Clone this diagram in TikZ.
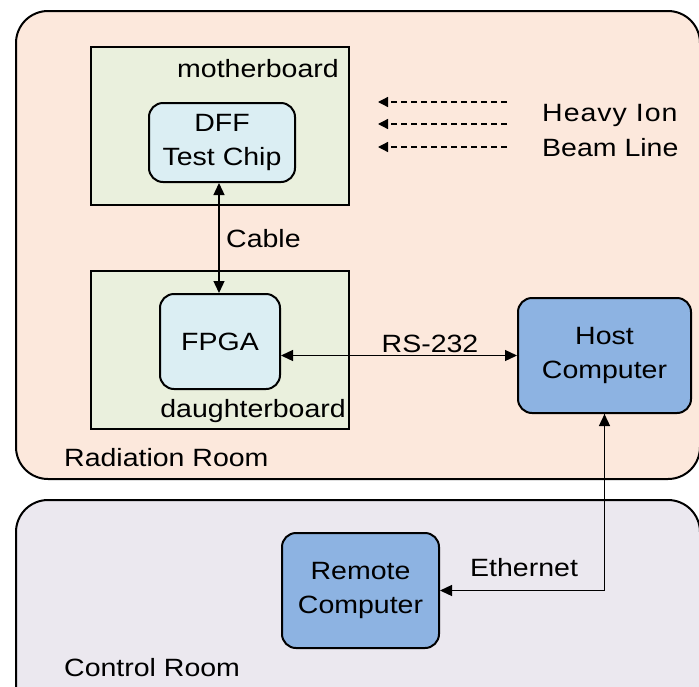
\documentclass[tikz,border=0pt]{standalone}
\usepackage{fontspec}
\setmainfont[FakeStretch=1.14]{Liberation Sans}
\usetikzlibrary{arrows.meta}
\definecolor{peach}{HTML}{FCE8DC}
\definecolor{ctrlgray}{HTML}{EBE8EF}
\definecolor{boardgreen}{HTML}{EAF0DD}
\definecolor{chipblue}{HTML}{DBEEF3}
\definecolor{pcblue}{HTML}{8DB3E2}
\tikzset{
  room/.style={draw=black, line width=2pt, rounded corners=32pt, inner sep=0pt, anchor=north west},
  board/.style={draw=black, line width=1.6pt, fill=boardgreen, inner sep=0pt, anchor=north west},
  chip/.style={draw=black, line width=2pt, rounded corners=14pt, fill=chipblue, inner sep=0pt, align=center, anchor=north west},
  pc/.style={draw=black, line width=2pt, rounded corners=14pt, fill=pcblue, inner sep=0pt, align=center, anchor=north west},
  lbl/.style={inner sep=0pt},
  arr/.style={line width=1.3pt, -{Triangle[length=12pt,width=11pt]}},
  biarr/.style={line width=1.3pt, {Triangle[length=12pt,width=11pt]}-{Triangle[length=12pt,width=11pt]}},
  beam/.style={line width=1.3pt, dash pattern=on 6pt off 4pt, -{Triangle[length=10pt,width=10pt]}},
}
\begin{document}
\begin{tikzpicture}[x=1pt,y=-1pt,font=\fontsize{25}{34}\selectfont]
\useasboundingbox (0,0) rectangle (699,686);
\node[room, fill=peach, minimum width=684pt, minimum height=468pt] (rad) at (15,10) {};
\node[room, fill=ctrlgray, minimum width=684pt, minimum height=220pt] (ctrl) at (15,499) {};
\node[board, minimum width=258pt, minimum height=158pt] (mb) at (90,46) {};
\node[board, minimum width=258pt, minimum height=158pt] (db) at (90,270) {};
\node[chip, minimum width=146pt, minimum height=79pt] (dff) at (148,102) {DFF\\Test Chip};
\node[chip, minimum width=120pt, minimum height=95pt] (fpga) at (159,293) {FPGA};
\node[pc, minimum width=173pt, minimum height=115pt] (host) at (517,297) {Host\\Computer};
\node[pc, minimum width=157pt, minimum height=115pt] (remote) at (281,532) {Remote\\Computer};
\node[lbl, anchor=base east] (mblbl) at (339,77) {motherboard};
\node[lbl, anchor=base east] (dblbl) at (346,417) {daughterboard};
\node[lbl, anchor=base west] (radlbl) at (64,466) {Radiation Room};
\node[lbl, anchor=base west] (ctrllbl) at (64,676) {Control Room};
\node[lbl, anchor=base west] (cablelbl) at (226,247) {Cable};
\node[lbl, anchor=base] (rslbl) at (430,352) {RS-232};
\node[lbl, anchor=base west] (ethlbl) at (470,576) {Ethernet};
\node[lbl, anchor=base west] (hi1) at (542,121) {\addfontfeature{LetterSpace=4}Heavy Ion};
\node[lbl, anchor=base west] (hi2) at (542,156) {Beam Line};
\coordinate (b1s) at (507,102); \coordinate (b1e) at (378,102);
\coordinate (b2s) at (507,124); \coordinate (b2e) at (378,124);
\coordinate (b3s) at (507,147); \coordinate (b3e) at (378,147);
\draw[beam] (b1s) -- (b1e);
\draw[beam] (b2s) -- (b2e);
\draw[beam] (b3s) -- (b3e);
\draw[biarr] (dff.south -| 219,0) -- (fpga.north -| 219,0);
\draw[biarr] (host.west -| fpga.east) -- (host.west);
\draw[arr] (host.south) |- (remote.east);
\draw[arr] (remote.east -| host.south) -- (host.south);
\end{tikzpicture}
\end{document}
